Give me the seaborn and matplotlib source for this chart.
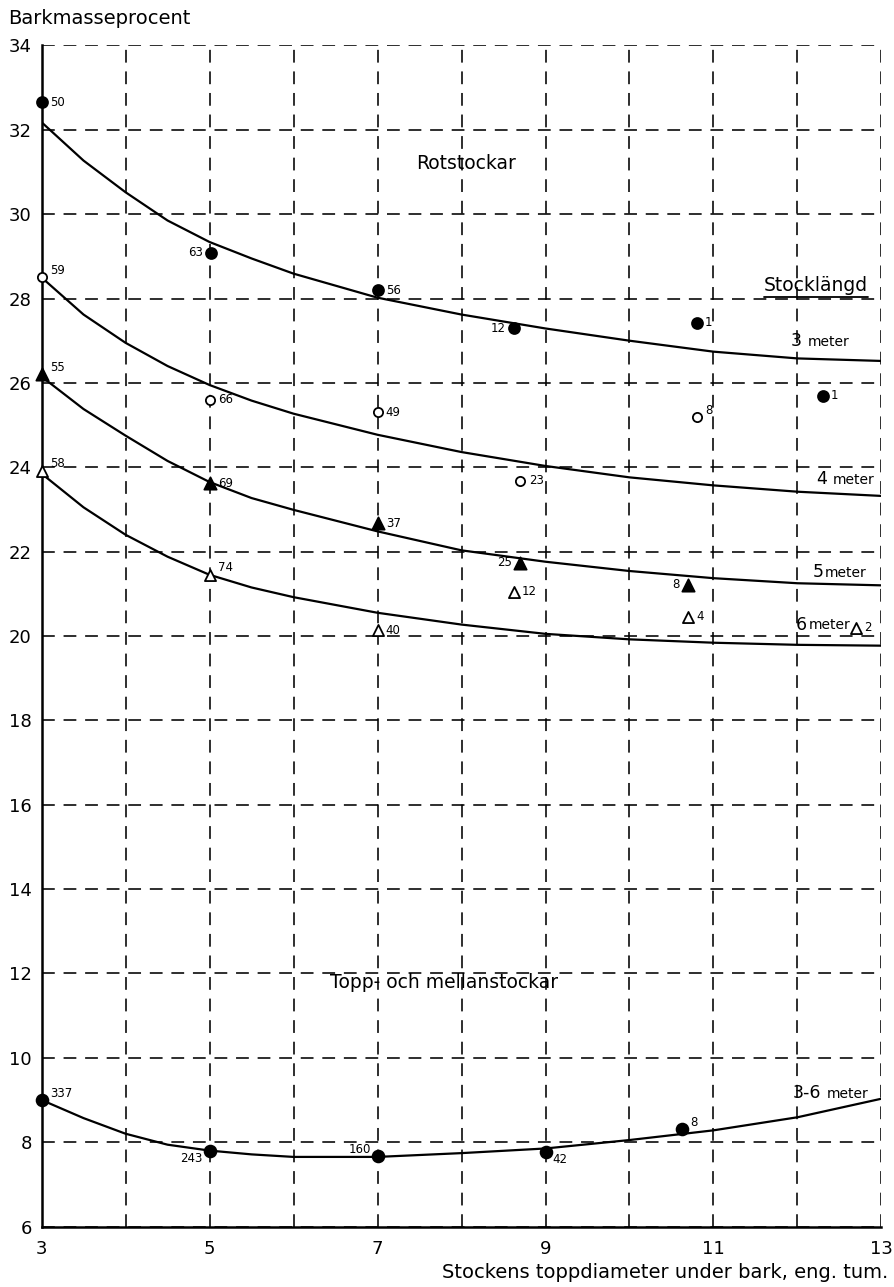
"""
Barkmasseprocent vs toppdiameter: fitted curves per stock length, with observed means.
"""
import matplotlib
matplotlib.use('Agg')
import matplotlib.pyplot as plt
import matplotlib.transforms as mtransforms
from matplotlib.lines import Line2D
import pandas as pd
import seaborn as sns

# --- fitted curves ---
curve_x = [3, 3.5, 4, 4.5, 5, 5.5, 6, 7, 8, 9, 10, 11, 12, 13]
curve_3m = [32.18, 31.27, 30.52, 29.85, 29.34, 28.95, 28.59, 28.02, 27.62, 27.29, 27.0, 26.74, 26.58, 26.52]
curve_4m = [28.5, 27.62, 26.95, 26.4, 25.95, 25.58, 25.27, 24.77, 24.36, 24.03, 23.76, 23.57, 23.42, 23.32]
curve_5m = [26.15, 25.38, 24.75, 24.15, 23.65, 23.27, 22.99, 22.48, 22.03, 21.76, 21.54, 21.37, 21.25, 21.2]
curve_6m = [23.85, 23.05, 22.4, 21.88, 21.45, 21.15, 20.92, 20.55, 20.27, 20.05, 19.92, 19.84, 19.79, 19.77]
curve_low = [9.0, 8.57, 8.2, 7.94, 7.8, 7.71, 7.65, 7.65, 7.74, 7.85, 8.05, 8.28, 8.59, 9.03]

# --- observed means, with number of stocks ---
pts_3m_x = [3.0, 5.02, 7.0, 8.62, 10.8, 12.3]
pts_3m_y = [32.65, 29.09, 28.2, 27.3, 27.42, 25.7]
pts_3m_n = ['50', '63', '56', '12', '1', '1']

pts_4m_x = [3.0, 5.0, 7.0, 8.7, 10.8]
pts_4m_y = [28.5, 25.6, 25.3, 23.68, 25.18]
pts_4m_n = ['59', '66', '49', '23', '8']

pts_5m_x = [3.0, 5.0, 7.0, 8.7, 10.7]
pts_5m_y = [26.2, 23.62, 22.67, 21.74, 21.22]
pts_5m_n = ['55', '69', '37', '25', '8']

pts_6m_x = [3.0, 5.0, 7.0, 8.62, 10.7, 12.7]
pts_6m_y = [23.92, 21.45, 20.13, 21.05, 20.45, 20.2]
pts_6m_n = ['58', '74', '40', '12', '4', '2']

pts_low_x = [3.0, 5.0, 7.0, 9.0, 10.62]
pts_low_y = [9.0, 7.78, 7.66, 7.76, 8.3]
pts_low_n = ['337', '243', '160', '42', '8']

y_ticks = list(range(6, 35, 2))
x_major = [3, 5, 7, 9, 11, 13]
x_minor = [4, 6, 8, 10, 12]

# where each count label sits relative to its point
lab_3m = ['r', 'l', 'r', 'l', 'r', 'r']
lab_4m = ['ru', 'r', 'r', 'r', 'ru']
lab_5m = ['ru', 'r', 'r', 'l', 'l']
lab_6m = ['ru', 'ru', 'r', 'r', 'r', 'r']
lab_low = ['ru', 'ld', 'lu', 'rd', 'ru']
OFFSETS = {'r': (6, 0, 'left'), 'l': (-6, 0, 'right'), 'ru': (6, 5, 'left'),
           'ld': (-5, -5, 'right'), 'lu': (-5, 5, 'right'), 'rd': (5, -5, 'left')}

sns.set_style('white')
plt.rcParams['font.family'] = ['DejaVu Sans']
plt.rcParams['text.color'] = 'black'
plt.rcParams['xtick.color'] = 'black'
plt.rcParams['ytick.color'] = 'black'
plt.rcParams['axes.labelcolor'] = 'black'

fig = plt.figure(figsize=(8.95, 12.87), dpi=100)
ax = fig.add_axes([0.0464, 0.047, 0.9385, 0.9177])

# curves
curves = pd.DataFrame({
    'x': curve_x * 5,
    'y': curve_3m + curve_4m + curve_5m + curve_6m + curve_low,
    'curve': sum([[c] * len(curve_x) for c in ['3m', '4m', '5m', '6m', 'low']], []),
})
sns.lineplot(data=curves, x='x', y='y', units='curve', estimator=None, sort=False,
             color='black', lw=1.6, ax=ax, zorder=3)

# points
groups = [
    (pts_3m_x, pts_3m_y, pts_3m_n, lab_3m, 'o', 'black', 62),
    (pts_4m_x, pts_4m_y, pts_4m_n, lab_4m, 'o', 'white', 44),
    (pts_5m_x, pts_5m_y, pts_5m_n, lab_5m, '^', 'black', 78),
    (pts_6m_x, pts_6m_y, pts_6m_n, lab_6m, '^', 'white', 64),
    (pts_low_x, pts_low_y, pts_low_n, lab_low, 'o', 'black', 72),
]
for xs, ys, ns, labs, mk, face, size in groups:
    df = pd.DataFrame({'x': xs, 'y': ys})
    sns.scatterplot(data=df, x='x', y='y', marker=mk, s=size, color=face,
                    edgecolor='black', linewidth=1.3, ax=ax, zorder=4, clip_on=False)
    for x, y, n, lab in zip(xs, ys, ns, labs):
        dx, dy, ha = OFFSETS[lab]
        ax.annotate(n, (x, y), xytext=(dx, dy), textcoords='offset points',
                    ha=ha, va='center', fontsize=8.5)

# axes, grid
ax.set_xlim(3, 13)
ax.set_ylim(6, 34)
ax.set_xticks(x_major)
ax.set_xticks(x_minor, minor=True)
ax.set_yticks(y_ticks)
ax.grid(which='both', color='black', lw=1.15, ls=(0, (8, 5.5)))
ax.tick_params(which='both', length=0, labelsize=13, labelcolor='black')
ax.tick_params(axis='x', pad=10)
ax.tick_params(axis='y', pad=7)
ax.set_xlabel('')
ax.set_ylabel('')
for side in ['top', 'right']:
    ax.spines[side].set_visible(False)
for side in ['left', 'bottom']:
    ax.spines[side].set_linewidth(1.8)
    ax.spines[side].set_color('black')

# curve labels
def meter_label(x, y, lead, gap=4, big=12.5):
    t = ax.text(x, y, lead, fontsize=big, ha='left', va='baseline')
    ax.annotate('meter', xy=(1, 0), xycoords=t, xytext=(gap, 1), textcoords='offset points',
                fontsize=10, ha='left', va='bottom')

meter_label(11.92, 26.87, '3')
meter_label(12.22, 23.6, '4')
meter_label(12.18, 21.4, '5', gap=1)
meter_label(11.98, 20.15, '6', gap=1)
meter_label(11.94, 9.04, '3-6')

ax.text(8.05, 31.19, 'Rotstockar', fontsize=13.5, ha='center', va='center')
ax.text(7.79, 11.79, 'Topp- och mellanstockar', fontsize=13.5, ha='center', va='center')
stock_txt = ax.text(12.22, 28.32, 'Stocklängd', fontsize=13.5, ha='center', va='center')

fig.text(8 / 895, 1 - 18 / 1287, 'Barkmasseprocent', fontsize=14, ha='left', va='center')
fig.text(888 / 895, 1 - 1273 / 1287, 'Stockens toppdiameter under bark, eng. tum.',
         fontsize=14, ha='right', va='center')

# underline under "Stocklängd"
fig.canvas.draw()
bb = stock_txt.get_window_extent(fig.canvas.get_renderer())
fig.add_artist(Line2D([bb.x0, bb.x1], [bb.y0 - 2, bb.y0 - 2], color='black', lw=1.3,
                      transform=mtransforms.IdentityTransform()))

fig.savefig('out.png', dpi=100)
